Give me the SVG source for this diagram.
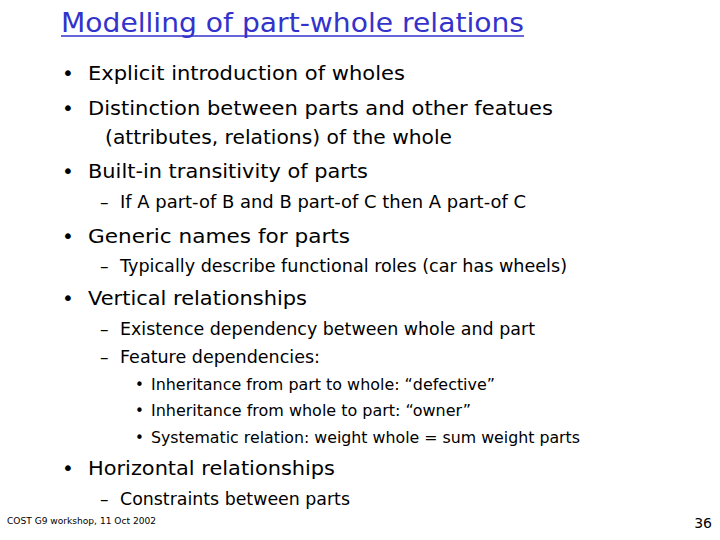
<svg xmlns="http://www.w3.org/2000/svg" width="720" height="540" viewBox="0 0 720 540">
<style>
text{font-family:"DejaVu Sans","Verdana",sans-serif;fill:#000}
.l1{font-size:20px}
.l2{font-size:17px}
.l3{font-size:15px}
</style>
<rect width="720" height="540" fill="#fff"/>
<text x="61" y="32" style="font-size:27px;fill:#3333cc" textLength="463" lengthAdjust="spacingAndGlyphs">Modelling of part-whole relations</text>
<line x1="61" y1="36" x2="524" y2="36" stroke="#3333cc" stroke-width="1.5"/>
<g class="l1">
<text x="62" y="80">•</text><text x="88" y="80" textLength="317" lengthAdjust="spacingAndGlyphs">Explicit introduction of wholes</text>
<text x="62" y="115">•</text><text x="88" y="115" textLength="465" lengthAdjust="spacingAndGlyphs">Distinction between parts and other featues</text>
<text x="105" y="144" textLength="347" lengthAdjust="spacingAndGlyphs">(attributes, relations) of the whole</text>
<text x="62" y="178">•</text><text x="88" y="178" textLength="280" lengthAdjust="spacingAndGlyphs">Built-in transitivity of parts</text>
<text x="62" y="243">•</text><text x="88" y="243" textLength="262" lengthAdjust="spacingAndGlyphs">Generic  names for parts</text>
<text x="62" y="305">•</text><text x="88" y="305" textLength="219" lengthAdjust="spacingAndGlyphs">Vertical relationships</text>
<text x="62" y="475">•</text><text x="88" y="475" textLength="247" lengthAdjust="spacingAndGlyphs">Horizontal relationships</text>
</g>
<g class="l2">
<text x="100" y="208">–</text><text x="120" y="208" textLength="406" lengthAdjust="spacingAndGlyphs">If A part-of B and B part-of C then A part-of C</text>
<text x="100" y="272">–</text><text x="120" y="272" textLength="447" lengthAdjust="spacingAndGlyphs">Typically describe functional roles (car has wheels)</text>
<text x="100" y="335">–</text><text x="120" y="335" textLength="415" lengthAdjust="spacingAndGlyphs">Existence dependency between whole and part</text>
<text x="100" y="363">–</text><text x="120" y="363" textLength="200" lengthAdjust="spacingAndGlyphs">Feature dependencies:</text>
<text x="100" y="505">–</text><text x="120" y="505" textLength="230" lengthAdjust="spacingAndGlyphs">Constraints between parts</text>
</g>
<g class="l3">
<text x="135" y="390">•</text><text x="151" y="390" textLength="344" lengthAdjust="spacingAndGlyphs">Inheritance from part to whole: “defective”</text>
<text x="135" y="416">•</text><text x="151" y="416" textLength="320" lengthAdjust="spacingAndGlyphs">Inheritance from whole to part: “owner”</text>
<text x="135" y="443">•</text><text x="151" y="443" textLength="429" lengthAdjust="spacingAndGlyphs">Systematic relation: weight whole = sum weight parts</text>
</g>
<text x="7" y="524" style="font-size:9px" textLength="149" lengthAdjust="spacingAndGlyphs">COST G9 workshop, 11  Oct 2002</text>
<text x="712" y="528" style="font-size:14px" text-anchor="end">36</text>
</svg>
